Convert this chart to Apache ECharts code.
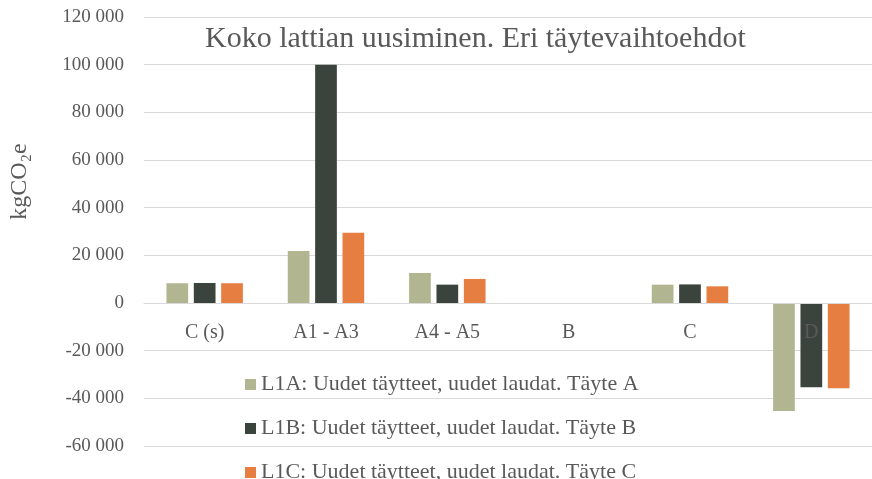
<!DOCTYPE html>
<html>
<head>
<meta charset="utf-8">
<script src="https://cdn.jsdelivr.net/npm/echarts@6/dist/echarts.min.js"></script>
<style>
  html, body { margin: 0; padding: 0; background: #fff; }
  #chart { width: 872px; height: 479px; }
</style>
</head>
<body>
<div id="chart"></div>
<script>
// luokat ja arvot (kgCO2e)
var categories = ['C (s)', 'A1 - A3', 'A4 - A5', 'B', 'C', 'D'];
var seriesNames = [
  'L1A: Uudet täytteet, uudet laudat. Täyte A',
  'L1B: Uudet täytteet, uudet laudat. Täyte B',
  'L1C: Uudet täytteet, uudet laudat. Täyte C'
];
var valuesA = [8300, 21800, 12600, 0, 7700, -45300];
var valuesB = [8400, 100000, 7700, 0, 7800, -35400];
var valuesC = [8300, 29500, 10100, 0, 7000, -35800];
var colors = ['#b2b690', '#3a433c', '#e67e42'];

var font = '"Liberation Serif", "DejaVu Serif", serif';
var textColor = '#595959';

var chart = echarts.init(document.getElementById('chart'));

function fmt(v) {
  var s = Math.abs(v).toString();
  var out = s.replace(/\B(?=(\d{3})+(?!\d))/g, ' ');
  return (v < 0 ? '-' : '') + out;
}

function bar(name, data, color) {
  return {
    name: name,
    type: 'bar',
    data: data,
    barGap: '26%',
    barCategoryGap: '37%',
    itemStyle: { color: color }
  };
}

var option = {
  animation: false,
  color: colors,
  textStyle: { fontFamily: font },
  title: {
    text: 'Koko lattian uusiminen. Eri täytevaihtoehdot',
    left: 200,
    top: 19,
    textStyle: {
      fontFamily: font,
      fontSize: 30,
      fontWeight: 'normal',
      color: textColor
    }
  },
  legend: {
    orient: 'vertical',
    left: 240,
    top: 368,
    height: 150,
    itemWidth: 11,
    itemHeight: 11,
    itemGap: 21,
    icon: 'rect',
    data: seriesNames,
    textStyle: {
      fontFamily: font,
      fontSize: 22,
      lineHeight: 23,
      color: textColor
    }
  },
  grid: {
    left: 143,
    right: 0,
    top: 17,
    bottom: 33
  },
  xAxis: {
    type: 'category',
    data: categories,
    offset: -143,
    z: 5,
    axisTick: { show: false },
    axisLine: { lineStyle: { color: '#d9d9d9', width: 1 } },
    axisLabel: {
      margin: 20,
      fontFamily: font,
      fontSize: 20,
      color: textColor,
      interval: 0
    }
  },
  yAxis: {
    type: 'value',
    min: -60000,
    max: 120000,
    interval: 20000,
    name: 'kgCO₂e',
    nameLocation: 'middle',
    nameGap: 112,
    nameTextStyle: {
      fontFamily: font,
      fontSize: 24,
      color: textColor,
      padding: [0, 0, 0, 100]
    },
    axisLine: { show: false },
    axisTick: { show: false },
    splitLine: { lineStyle: { color: '#d9d9d9', width: 1 } },
    axisLabel: {
      margin: 20,
      fontFamily: font,
      fontSize: 19,
      color: textColor,
      formatter: fmt
    }
  },
  series: [
    bar(seriesNames[0], valuesA, colors[0]),
    bar(seriesNames[1], valuesB, colors[1]),
    bar(seriesNames[2], valuesC, colors[2])
  ]
};

chart.setOption(option);
</script>
</body>
</html>
